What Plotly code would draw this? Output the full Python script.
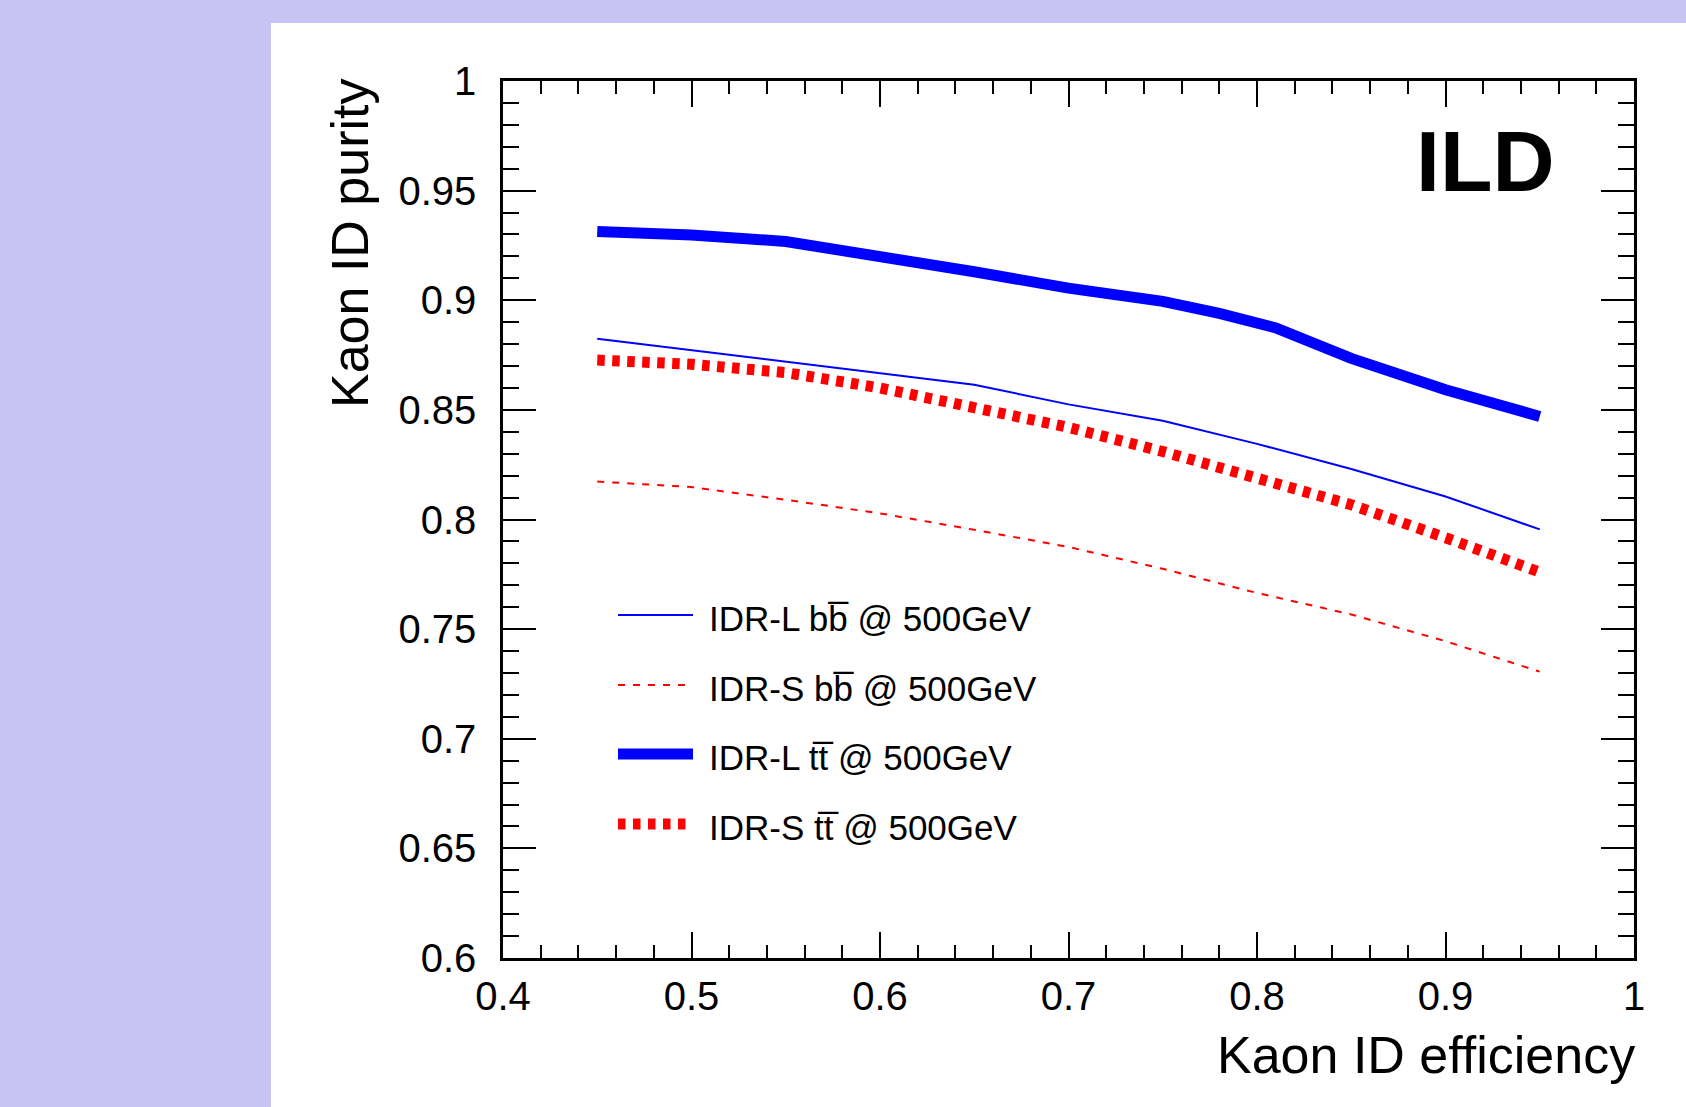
import plotly.graph_objects as go

# Kaon ID efficiency / purity working points
eff_L_bb = [0.45, 0.50, 0.55, 0.60, 0.65, 0.70, 0.75, 0.80, 0.85, 0.90, 0.95]
pur_L_bb = [0.8824, 0.8772, 0.8720, 0.8667, 0.8615, 0.8525, 0.8450, 0.8345, 0.8230, 0.8105, 0.7955]

eff_S_bb = [0.45, 0.50, 0.55, 0.60, 0.65, 0.70, 0.75, 0.80, 0.85, 0.90, 0.95]
pur_S_bb = [0.8173, 0.8148, 0.8090, 0.8028, 0.7953, 0.7875, 0.7775, 0.7665, 0.7567, 0.7445, 0.7306]

eff_L_tt = [0.45, 0.50, 0.55, 0.60, 0.65, 0.70, 0.75, 0.78, 0.81, 0.85, 0.90, 0.95]
pur_L_tt = [0.9314, 0.9298, 0.9268, 0.9203, 0.9130, 0.9055, 0.8995, 0.8940, 0.8874, 0.8735, 0.8592, 0.8470]

eff_S_tt = [0.45, 0.50, 0.55, 0.60, 0.65, 0.70, 0.75, 0.80, 0.85, 0.90, 0.95]
pur_S_tt = [0.8727, 0.8708, 0.8670, 0.8600, 0.8510, 0.8420, 0.8310, 0.8185, 0.8067, 0.7917, 0.7760]

series_names = [
    "IDR-L bb\u0305 @ 500GeV",
    "IDR-S bb\u0305 @ 500GeV",
    "IDR-L tt\u0305 @ 500GeV",
    "IDR-S tt\u0305 @ 500GeV",
]

x_tickvals = [0.4, 0.5, 0.6, 0.7, 0.8, 0.9, 1.0]
x_ticktext = ["0.4", "0.5", "0.6", "0.7", "0.8", "0.9", "1"]
y_tickvals = [0.6, 0.65, 0.7, 0.75, 0.8, 0.85, 0.9, 0.95, 1.0]
y_ticktext = ["0.6", "0.65", "0.7", "0.75", "0.8", "0.85", "0.9", "0.95", "1"]

W, H = 1686, 1107
L, R, T, B = 503, 52, 81, 149
PW, PH = W - L - R, H - T - B

FONT = "Liberation Sans, Arial, Helvetica, sans-serif"
BLUE = "#0000ff"
RED = "#ff0000"
LAVENDER = "rgb(201,195,242)"

styles = [
    dict(color=BLUE, width=2, dash="solid"),
    dict(color=RED, width=2, dash="7px,8px"),
    dict(color=BLUE, width=11, dash="solid"),
    dict(color=RED, width=11, dash="7.5px,7.5px"),
]
data = [(eff_L_bb, pur_L_bb), (eff_S_bb, pur_S_bb), (eff_L_tt, pur_L_tt), (eff_S_tt, pur_S_tt)]


def px_x(px):
    return (px - L) / PW


def px_y(py):
    return (H - B - py) / PH


fig = go.Figure()
for (xs, ys), st, name in zip(data, styles, series_names):
    fig.add_trace(go.Scatter(x=xs, y=ys, mode="lines", name=name, line=st,
                             showlegend=False, hoverinfo="skip"))

shapes = [
    # white canvas over the lavender page
    dict(type="rect", xref="paper", yref="paper", layer="below",
         x0=px_x(271), x1=px_x(W + 20), y0=px_y(H + 20), y1=px_y(23),
         fillcolor="white", line=dict(width=0)),
]
annotations = []

# legend entries
row_y = [615, 685, 754, 824]
for st, name, ry in zip(styles, series_names, row_y):
    shapes.append(dict(type="line", xref="paper", yref="paper",
                       x0=px_x(618), x1=px_x(693), y0=px_y(ry), y1=px_y(ry),
                       line=st))
    annotations.append(dict(xref="paper", yref="paper", x=px_x(707), y=px_y(ry + 3),
                            xanchor="left", yanchor="middle", showarrow=False,
                            text=name, font=dict(family=FONT, size=35, color="black")))

annotations += [
    dict(xref="paper", yref="paper", x=px_x(1557), y=px_y(161),
         xanchor="right", yanchor="middle", showarrow=False, text="<b>ILD</b>",
         font=dict(family=FONT, size=86, color="black")),
    dict(xref="paper", yref="paper", x=px_x(1637), y=px_y(1055),
         xanchor="right", yanchor="middle", showarrow=False, text="Kaon ID efficiency",
         font=dict(family=FONT, size=52, color="black")),
    dict(xref="paper", yref="paper", x=px_x(350), y=px_y(76),
         xanchor="center", yanchor="top", showarrow=False, textangle=-90,
         text="Kaon ID purity", font=dict(family=FONT, size=52, color="black")),
]

axis_common = dict(showgrid=False, zeroline=False, showline=True, linecolor="black",
                   linewidth=2.5, mirror="ticks", ticks="inside", tickwidth=2,
                   tickcolor="black", tickfont=dict(family=FONT, size=40, color="black"))

fig.update_layout(
    width=W, height=H,
    margin=dict(l=L, r=R, t=T, b=B, autoexpand=False),
    paper_bgcolor=LAVENDER, plot_bgcolor="white",
    shapes=shapes, annotations=annotations,
    xaxis=dict(range=[0.4, 1.0], tickvals=x_tickvals, ticktext=x_ticktext, ticklen=26,
               ticklabelstandoff=1,
               minor=dict(tick0=0.4, dtick=0.02, ticks="inside", ticklen=13,
                          tickwidth=2, tickcolor="black", showgrid=False),
               **axis_common),
    yaxis=dict(range=[0.6, 1.0], tickvals=y_tickvals, ticktext=y_ticktext, ticklen=33,
               ticklabelstandoff=16,
               minor=dict(tick0=0.6, dtick=0.01, ticks="inside", ticklen=16,
                          tickwidth=2, tickcolor="black", showgrid=False),
               **axis_common),
)

fig.write_html("out.html")
